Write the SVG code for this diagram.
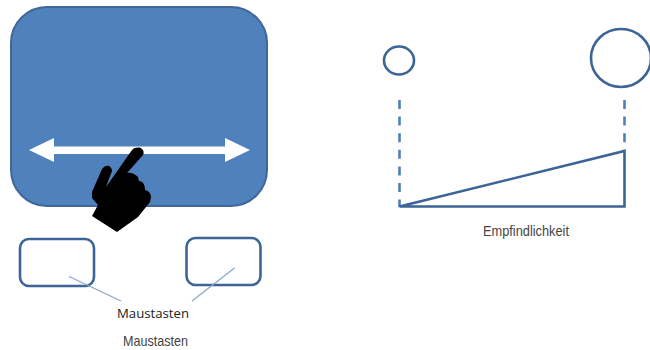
<svg xmlns="http://www.w3.org/2000/svg" width="650" height="350" viewBox="0 0 650 350">
<style>
.o{fill:#fff;stroke:#3c6496;stroke-width:2.6}
.c{fill:none;stroke:#3c6496;stroke-width:2.6}
.d{fill:none;stroke:#4f7fb8;stroke-width:2.6;stroke-dasharray:9 7.6}
.l{fill:none;stroke:#8ba6c8;stroke-width:1.2}
.t{font-family:"Liberation Sans",Arial,sans-serif;fill:#444;text-anchor:middle}
</style>
<rect width="650" height="350" fill="#fff"/>
<g id="touchpad"><rect x="11" y="7" width="256" height="199" rx="36" ry="36" fill="#4f81bd" stroke="#3f6797" stroke-width="2"/></g>
<g id="double-arrow"><polygon points="29,150 54,138 54,146.500 225,146.500 225,138 250,150 225,162 225,154 54,154 54,162" fill="#fff"/></g>
<g id="hand"><path d="M132,150 C135,147 140,147 142,149 C144,151 144,153 143,155 L127,173 C131,172 135,174 138,177 L139,181 C143,181 145,185 145,190 C149,191 151,194 151,197 L150,202 L138,217 L117,232 L92,216 L98,205 L92,198 L92,192 L102,169 C104,166 107,165 109,166 C112,168 112,170 112,171 L106,187 Z" fill="#000"/></g>
<g id="left-button"><rect x="20" y="239" width="74" height="47" rx="9" class="o"/></g>
<g id="right-button"><rect x="186.500" y="238" width="74" height="47" rx="9" class="o"/></g>
<g id="connectors">
<path d="M69,276.500 L121,301" class="l"/>
<path d="M234.500,268 L192,301" class="l"/>
<path d="M399.500,100 V207" class="d"/>
<path d="M624.500,100 V150" class="d"/>
</g>
<g id="wedge"><path d="M399.500,206.500 L624.500,151 V206.500 Z" class="c"/></g>
<g id="small-circle"><ellipse cx="399" cy="60.500" rx="15" ry="14" class="c"/></g>
<g id="large-circle"><ellipse cx="621" cy="58" rx="30" ry="29" class="c"/></g>
<text x="153" y="318" font-size="12" style="font-family:'Open Sans','Noto Sans',sans-serif;fill:#222;text-anchor:middle" textLength="72" lengthAdjust="spacingAndGlyphs">Maustasten</text>
<text x="155.500" y="346" font-size="15" class="t" textLength="65" lengthAdjust="spacingAndGlyphs">Maustasten</text>
<text x="526" y="236" font-size="15" class="t" textLength="86" lengthAdjust="spacingAndGlyphs">Empfindlichkeit</text>
</svg>
